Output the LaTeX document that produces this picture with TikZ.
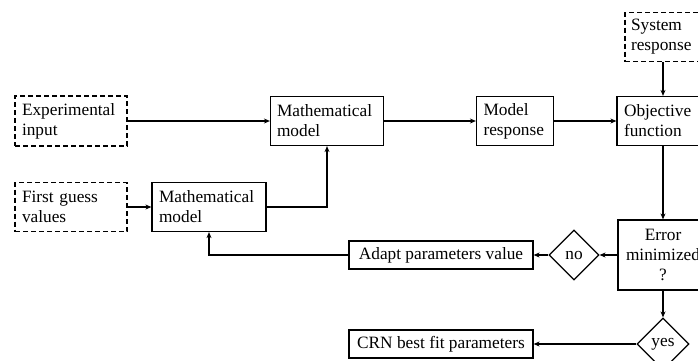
\documentclass[tikz,border=0pt]{standalone}
\usepackage{fontspec}
\setmainfont{Liberation Serif}
\usetikzlibrary{arrows.meta,shapes.geometric}
\begin{document}
\begin{tikzpicture}[x=1pt,y=-1pt,
  font=\fontsize{17.3}{20}\selectfont,
  box/.style={draw,line width=1.2pt,rectangle,inner sep=0pt,align=left},
  dbox/.style={box,dash pattern=on 5pt off 3pt},
  dia/.style={draw,line width=1.2pt,diamond,inner sep=0pt,minimum width=#1,minimum height=#1,aspect=1},
  conn/.style={line width=2pt,-{Stealth[length=6pt,width=5pt]}}]
\useasboundingbox (0,0) rectangle (698,360);
\clip (0,0) rectangle (698,360);
\node[dbox,minimum width=112pt,minimum height=50pt,text width=98pt] (exp) at (71,121) {Experimental\\input};
\node[box,minimum width=113pt,minimum height=49pt,text width=100pt] (mm1) at (327,121) {Mathematical\\model};
\node[dbox,minimum width=112pt,minimum height=49pt,text width=98pt] (fg) at (71,207) {First guess\\values};
\node[box,minimum width=114pt,minimum height=49pt,text width=100pt] (mm2) at (209,207) {Mathematical\\model};
\node[box,minimum width=77pt,minimum height=49pt,text width=63pt] (mr) at (515,121) {Model\\response};
\node[box,minimum width=92pt,minimum height=49pt,text width=78pt] (of) at (663,121) {Objective\\function};
\node[dbox,minimum width=76pt,minimum height=49pt,text width=64pt] (sr) at (663,37) {System\\response};
\node[box,minimum width=90pt,minimum height=70pt,align=center] (err) at (663,255) {Error\\minimized\\?};
\node[dia=50pt] (no) at (574,255) {no};
\node[box,minimum width=184pt,minimum height=28pt,align=center] (adapt) at (441,255) {Adapt parameters value};
\node[dia=52pt] (yes) at (663,344) {yes};
\node[box,minimum width=184pt,minimum height=28pt,align=center] (crn) at (441,344) {CRN best fit parameters};
\draw[conn] (exp.east) -- (mm1.west |- exp.east);
\draw[conn] (fg.east) -- (mm2.west |- fg.east);
\draw[conn] (mm2.east) -| (mm1.south);
\draw[conn] (mm1.east) -- (mr.west);
\draw[conn] (mr.east) -- (of.west);
\draw[conn] (sr.south) -- (of.north);
\draw[conn] (of.south) -- (err.north);
\draw[conn] (err.west) -- (no.east);
\draw[conn] (no.west) -- (adapt.east);
\draw[conn] (adapt.west) -| (mm2.south);
\draw[conn] (err.south) -- (yes.north);
\draw[conn] (yes.west) -- (crn.east);
\end{tikzpicture}
\end{document}
